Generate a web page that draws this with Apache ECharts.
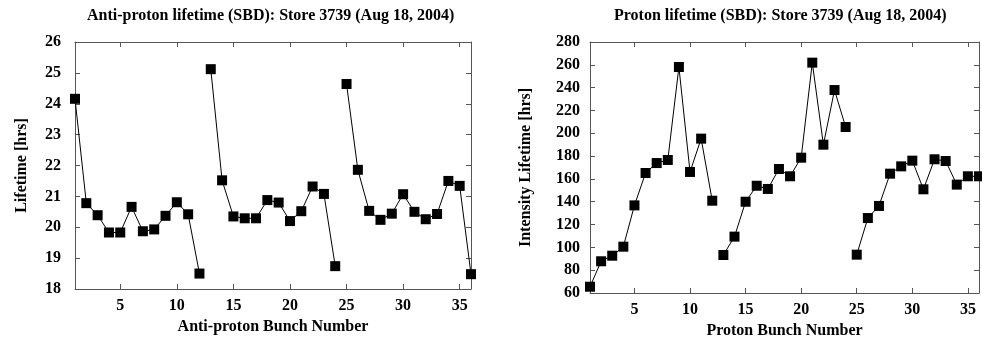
<!DOCTYPE html>
<html><head><meta charset="utf-8">
<script src="https://cdn.jsdelivr.net/npm/echarts@6/dist/echarts.min.js"></script>
<style>html,body{margin:0;padding:0;background:#fff}#c{width:982px;height:345px}</style>
</head><body><div id="c"></div>
<script>
const bunchNumbers = [1,2,3,4,5,6,7,8,9,10,11,12,13,14,15,16,17,18,19,20,21,22,23,24,25,26,27,28,29,30,31,32,33,34,35,36];
const antiprotonLifetime = [24.16,20.78,20.39,19.83,19.83,20.66,19.87,19.93,20.37,20.81,20.42,18.50,
  25.12,21.52,20.35,20.29,20.29,20.88,20.80,20.20,20.52,21.32,21.08,18.74,
  24.64,21.86,20.53,20.24,20.44,21.07,20.50,20.26,20.43,21.50,21.34,18.48];
const protonLifetime = [65.5,87.8,92.7,100.6,136.8,165.2,173.9,176.6,258.1,166.1,195.3,140.9,
  93.3,109.4,140.0,154.0,151.2,168.7,162.3,178.6,261.9,190.0,237.9,205.5,
  93.6,125.7,136.3,164.6,171.0,176.0,150.9,177.2,175.7,155.0,162.3,162.3];
const xTickValues = [5,10,15,20,25,30,35];
const trainSize = 12;

const FONT = '"Liberation Serif","Times New Roman",serif';
const AX = '#555';
const FS = 16;

function trains(values, gridIdx) {
  const out = [];
  for (let t = 0; t < 3; t++) {
    const d = [];
    for (let k = 0; k < trainSize; k++) {
      const i = t * trainSize + k;
      d.push([bunchNumbers[i], values[i]]);
    }
    out.push({
      type: 'line', xAxisIndex: gridIdx * 2, yAxisIndex: gridIdx * 2, data: d,
      symbol: 'rect', symbolSize: 10, clip: false, animation: false,
      lineStyle: { color: '#000', width: 1 }, itemStyle: { color: '#000' }
    });
  }
  return out;
}

function xAxes(gridIdx, name, gap) {
  const base = {
    type: 'value', gridIndex: gridIdx, min: 1, max: 36,
    axisLine: { show: true, lineStyle: { color: AX, width: 1 } },
    splitLine: { show: false }
  };
  return [
    Object.assign({}, base, {
      position: 'bottom', name: name, nameLocation: 'middle', nameGap: gap,
      nameTextStyle: { fontFamily: FONT, fontSize: FS, fontWeight: 'bold', color: '#000' },
      axisTick: { inside: true, length: 5, customValues: xTickValues, lineStyle: { color: AX } },
      axisLabel: { customValues: xTickValues, margin: 9, fontFamily: FONT, fontSize: FS, fontWeight: 'bold', color: '#000' }
    }),
    Object.assign({}, base, {
      position: 'top',
      axisTick: { inside: true, length: 5, customValues: xTickValues, lineStyle: { color: AX } },
      axisLabel: { show: false }
    })
  ];
}

function yAxes(gridIdx, min, max, interval, name, gap, margin) {
  const base = {
    type: 'value', gridIndex: gridIdx, min: min, max: max, interval: interval,
    axisLine: { show: true, lineStyle: { color: AX, width: 1 } },
    splitLine: { show: false },
    axisTick: { inside: true, length: 5, lineStyle: { color: AX } }
  };
  return [
    Object.assign({}, base, {
      position: 'left', name: name, nameLocation: 'middle', nameGap: gap, nameRotate: 90,
      nameTextStyle: { fontFamily: FONT, fontSize: FS, fontWeight: 'bold', color: '#000' },
      axisLabel: { margin: margin, fontFamily: FONT, fontSize: FS, fontWeight: 'bold', color: '#000' }
    }),
    Object.assign({}, base, { position: 'right', axisLabel: { show: false } })
  ];
}

const chart = echarts.init(document.getElementById('c'), null, { renderer: 'canvas' });
chart.setOption({
  animation: false,
  backgroundColor: '#fff',
  title: [
    { text: 'Anti-proton lifetime (SBD): Store 3739 (Aug 18, 2004)', left: 82, top: 3,
      textStyle: { fontFamily: FONT, fontSize: FS, fontWeight: 'bold', color: '#000' } },
    { text: 'Proton lifetime (SBD): Store 3739 (Aug 18, 2004)', left: 609, top: 3,
      textStyle: { fontFamily: FONT, fontSize: FS, fontWeight: 'bold', color: '#000' } }
  ],
  grid: [
    { left: 75, right: 511, top: 42, bottom: 56 },
    { left: 590, right: 3, top: 42, bottom: 52 }
  ],
  xAxis: [].concat(xAxes(0, 'Anti-proton Bunch Number', 26), xAxes(1, 'Proton Bunch Number', 20)),
  yAxis: [].concat(yAxes(0, 18, 26, 1, 'Lifetime [hrs]', 45, 14), yAxes(1, 60, 280, 20, 'Intensity Lifetime [hrs]', 56, 10)),
  series: [].concat(trains(antiprotonLifetime, 0), trains(protonLifetime, 1))
});
</script></body></html>
